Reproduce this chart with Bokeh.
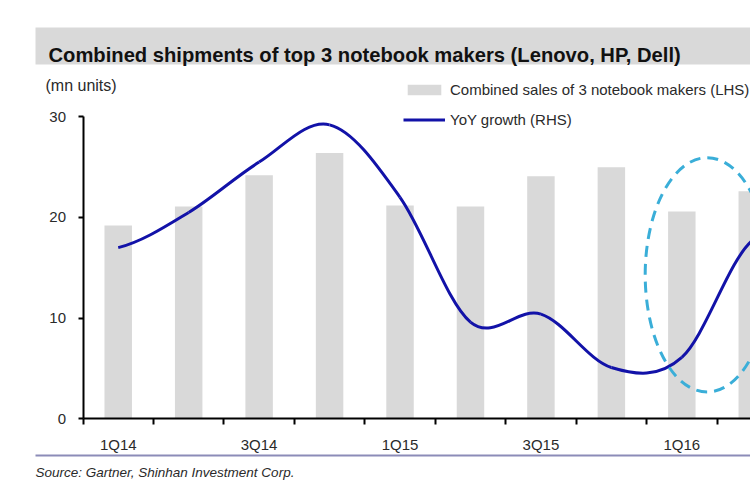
import numpy as np
from bokeh.plotting import figure
from bokeh.models import (ColumnDataSource, Range1d, FixedTicker, BoxAnnotation,
                          Label, Legend, LegendItem)
from bokeh.embed import file_html
from bokeh.resources import INLINE

# ---------------- data ----------------
quarters = ["1Q14", "2Q14", "3Q14", "4Q14", "1Q15", "2Q15", "3Q15", "4Q15", "1Q16", "2Q16"]
shipments = [19.2, 21.1, 24.2, 26.4, 21.2, 21.1, 24.1, 25.0, 20.6, 22.6]   # mn units (LHS)
yoy_growth = [17.0, 20.5, 25.5, 29.2, 22.0, 9.6, 10.4, 5.1, 6.1, 17.7]     # drawn on LHS scale
y_ticks = [0, 10, 20, 30]
x_label_quarters = ["1Q14", "3Q14", "1Q15", "3Q15", "1Q16"]

title_text = "Combined shipments of top 3 notebook makers (Lenovo, HP, Dell)"
units_text = "(mn units)"
source_text = "Source: Gartner, Shinhan Investment Corp."
bar_label = "Combined sales of 3 notebook makers (LHS)"
line_label = "YoY growth (RHS)"

# ---------------- layout / style ----------------
FONT = "Liberation Sans"
BAR_COLOR = "#d9d9d9"
LINE_COLOR = "#1212a8"
ELLIPSE_COLOR = "#3aaed8"
TEXT_COLOR = "#2a2a2a"

W, H = 750, 495
AXIS_X_PX = 82.5        # pixel column of the value axis
CAT_PX = 70.45          # pixels per quarter
AXIS_Y_PX = 418.3       # pixel row of the zero line
UNIT_PX = 10.067        # pixels per mn units

x_start = -0.5 - AXIS_X_PX / CAT_PX
x_end = -0.5 + (W - AXIS_X_PX) / CAT_PX
y_start = -(H - AXIS_Y_PX) / UNIT_PX
y_end = AXIS_Y_PX / UNIT_PX

x = np.arange(len(quarters))

p = figure(width=W, height=H, output_backend="svg", toolbar_location=None,
           x_range=Range1d(x_start, x_end), y_range=Range1d(y_start, y_end),
           min_border_left=0, min_border_right=0, min_border_top=0, min_border_bottom=0)
p.outline_line_color = None
p.xgrid.visible = False
p.ygrid.visible = False
p.background_fill_color = "white"
p.border_fill_color = "white"

# bars
bar_src = ColumnDataSource(dict(x=x, top=shipments))
bars = p.vbar(x="x", top="top", bottom=0, width=0.39, source=bar_src,
              fill_color=BAR_COLOR, line_color=None)

# smoothed growth line (cardinal spline through the data points)
yg = np.array(yoy_growth, dtype=float)
ext = np.r_[yg[0], yg, yg[-1]]
i = np.arange(len(yg) - 1)
bz_src = ColumnDataSource(dict(
    x0=x[:-1], y0=yg[:-1], x1=x[1:], y1=yg[1:],
    cx0=x[:-1] + 1 / 3, cy0=yg[:-1] + (ext[i + 2] - ext[i]) / 6,
    cx1=x[1:] - 1 / 3, cy1=yg[1:] - (ext[i + 3] - ext[i + 1]) / 6,
))
line = p.bezier(x0="x0", y0="y0", x1="x1", y1="y1", cx0="cx0", cy0="cy0", cx1="cx1", cy1="cy1",
                source=bz_src, line_color=LINE_COLOR, line_width=3)

# dashed highlight ellipse around 1Q16
p.ellipse(x=[8.36], y=[14.3], width=[1.76], height=[23.3], fill_color=None,
          line_color=ELLIPSE_COLOR, line_width=3, line_dash="11 7")

# axes (fixed at the zero lines, so the frame can hold the header and footer)
ya = p.yaxis[0]
ya.fixed_location = -0.5
ya.bounds = (y_ticks[0], y_ticks[-1])
ya.ticker = FixedTicker(ticks=y_ticks)
ya.axis_line_width = 2
ya.axis_line_color = "black"
ya.major_tick_out = 5
ya.major_tick_in = 0
ya.major_tick_line_width = 2
ya.minor_tick_line_color = None
ya.major_label_standoff = 12
ya.major_label_text_font = FONT
ya.major_label_text_font_size = "15px"
ya.major_label_text_color = TEXT_COLOR

xa = p.xaxis[0]
xa.fixed_location = 0
xa.bounds = (-0.5, len(quarters) - 0.5)
label_idx = [quarters.index(q) for q in x_label_quarters]
xa.ticker = FixedTicker(ticks=label_idx, minor_ticks=list(np.arange(len(quarters) + 1) - 0.5))
xa.major_label_overrides = {i_: quarters[i_] for i_ in label_idx}
xa.axis_line_width = 2
xa.axis_line_color = "black"
xa.major_tick_out = 0
xa.major_tick_in = 0
xa.minor_tick_out = 6
xa.minor_tick_in = 0
xa.minor_tick_line_width = 2
xa.minor_tick_line_color = "black"
xa.major_label_standoff = 11
xa.major_label_text_font = FONT
xa.major_label_text_font_size = "15px"
xa.major_label_text_color = TEXT_COLOR

# legend
legend = Legend(items=[LegendItem(label=bar_label, renderers=[bars]),
                       LegendItem(label=line_label, renderers=[line])],
                location=(403, 365.5), orientation="vertical", padding=0, margin=0,
                spacing=10, glyph_width=42, glyph_height=13, label_height=20, label_standoff=5,
                border_line_color=None, background_fill_alpha=0,
                label_text_font=FONT, label_text_font_size="15px", label_text_color=TEXT_COLOR)
p.add_layout(legend)

# header band, title, units, separator, source (screen units from bottom-left)
p.add_layout(BoxAnnotation(left=35, right=750, top=468, bottom=431,
                           left_units="screen", right_units="screen", top_units="screen",
                           bottom_units="screen", fill_color=BAR_COLOR, fill_alpha=1, line_color=None))
p.add_layout(BoxAnnotation(left=35, right=750, top=41, bottom=39,
                           left_units="screen", right_units="screen", top_units="screen",
                           bottom_units="screen", fill_color="#8c8cb8", fill_alpha=1, line_color=None))
p.add_layout(Label(x=48, y=441, x_units="screen", y_units="screen", text=title_text,
                   text_font=FONT, text_font_style="bold", text_font_size="20.2px",
                   text_color="#111111", text_baseline="alphabetic"))
p.add_layout(Label(x=45, y=410, x_units="screen", y_units="screen", text=units_text,
                   text_font=FONT, text_font_size="16px", text_color=TEXT_COLOR,
                   text_baseline="middle"))
p.add_layout(Label(x=35, y=23, x_units="screen", y_units="screen", text=source_text,
                   text_font=FONT, text_font_style="italic", text_font_size="13.5px",
                   text_color=TEXT_COLOR, text_baseline="middle"))

open("out.html", "w").write(file_html(p, INLINE))
